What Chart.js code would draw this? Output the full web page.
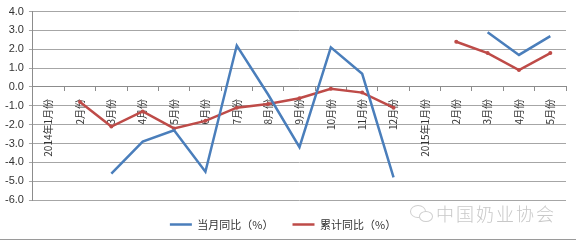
<!DOCTYPE html>
<html>
<head>
<meta charset="utf-8">
<script src="https://cdn.jsdelivr.net/npm/chart.js@4.4.1/dist/chart.umd.min.js"></script>
<style>
  html, body { margin: 0; padding: 0; background: #fff; }
  #wrap { position: relative; width: 576px; height: 241px; overflow: hidden; }
  #bottomline { position: absolute; left: 0; top: 239px; width: 576px; height: 1px; background: #9a9a9a; }
  #wm { position: absolute; left: 436px; top: 200px; font-family: "Noto Sans CJK SC", sans-serif; font-size: 18px; font-weight: 300; color: #c8c8c8; letter-spacing: 2px; white-space: nowrap; }
  .b1 { position: absolute; left: 410px; top: 205px; width: 14px; height: 11px; border: 1.5px solid #cfcfcf; border-radius: 50%; }
  .b2 { position: absolute; left: 419px; top: 211px; width: 12px; height: 9px; border: 1.5px solid #cfcfcf; border-radius: 50%; background: #fff; }
</style>
</head>
<body>
<div id="wrap">
  <canvas id="c" width="576" height="241"></canvas>
  <div class="b1"></div><div class="b2"></div>
  <div id="wm">中国奶业协会</div>
  <div id="bottomline"></div>
</div>
<script>
const categories = ["2014年1月份","2月份","3月份","4月份","5月份","6月份","7月份","8月份","9月份","10月份","11月份","12月份","2015年1月份","2月份","3月份","4月份","5月份"];
const monthlyYoY = [null, null, -4.6, -2.9, -2.3, -4.5, 2.2, -0.4, -3.2, 2.1, 0.7, -4.8, null, null, 2.9, 1.7, 2.7];
const cumulativeYoY = [null, -0.8, -2.1, -1.3, -2.2, -1.8, -1.1, -0.9, -0.6, -0.1, -0.3, -1.1, null, 2.4, 1.8, 0.9, 1.8];
const seriesNames = ["当月同比（%）", "累计同比（%）"];
const yMin = -6, yMax = 4, yStep = 1;

const FONT = '"Noto Sans CJK SC", "DejaVu Sans", sans-serif';

new Chart(document.getElementById('c'), {
  type: 'line',
  data: {
    labels: categories,
    datasets: [
      {
        label: seriesNames[0],
        data: monthlyYoY,
        borderColor: '#4a7ebb',
        backgroundColor: '#4a7ebb',
        borderWidth: 2.5,
        pointRadius: 0,
        spanGaps: false,
        tension: 0
      },
      {
        label: seriesNames[1],
        data: cumulativeYoY,
        borderColor: '#be4b48',
        backgroundColor: '#be4b48',
        borderWidth: 2.5,
        pointRadius: 2,
        pointBorderWidth: 0,
        pointStyle: 'circle',
        spanGaps: false,
        tension: 0
      }
    ]
  },
  options: {
    responsive: false,
    animation: false,
    devicePixelRatio: 1,
    layout: { padding: { left: 0, top: 11, right: 10, bottom: 1 } },
    plugins: {
      tooltip: { enabled: false },
      legend: {
        position: 'bottom',
        labels: {
          usePointStyle: true,
          pointStyleWidth: 22,
          padding: 19,
          color: '#333',
          font: { family: FONT, size: 11 },
          generateLabels: (chart) => chart.data.datasets.map((ds, i) => ({
            text: ds.label,
            fillStyle: ds.borderColor,
            strokeStyle: ds.borderColor,
            lineWidth: 2.5,
            pointStyle: 'line',
            datasetIndex: i,
            hidden: false,
            fontColor: '#333'
          }))
        }
      }
    },
    scales: {
      x: {
        type: 'category',
        position: { y: 0 },
        offset: true,
        grid: {
          display: true,
          drawOnChartArea: false,
          drawTicks: true,
          tickLength: 4,
          offset: true,
          color: '#8c8c8c'
        },
        border: { display: true, color: '#8c8c8c', width: 1 },
        ticks: {
          autoSkip: false,
          minRotation: 90,
          maxRotation: 90,
          padding: 8,
          color: '#333',
          font: { family: FONT, size: 10 }
        }
      },
      y: {
        min: yMin,
        max: yMax,
        grid: { color: '#a6a6a6', lineWidth: 1, tickLength: 4, drawTicks: true },
        border: { display: true, color: '#8c8c8c' },
        ticks: {
          stepSize: yStep,
          padding: 5,
          color: '#333',
          font: { family: '"Liberation Sans", Arial, sans-serif', size: 11 },
          callback: (v) => Number(v).toFixed(1)
        }
      }
    }
  }
});
</script>
</body>
</html>
